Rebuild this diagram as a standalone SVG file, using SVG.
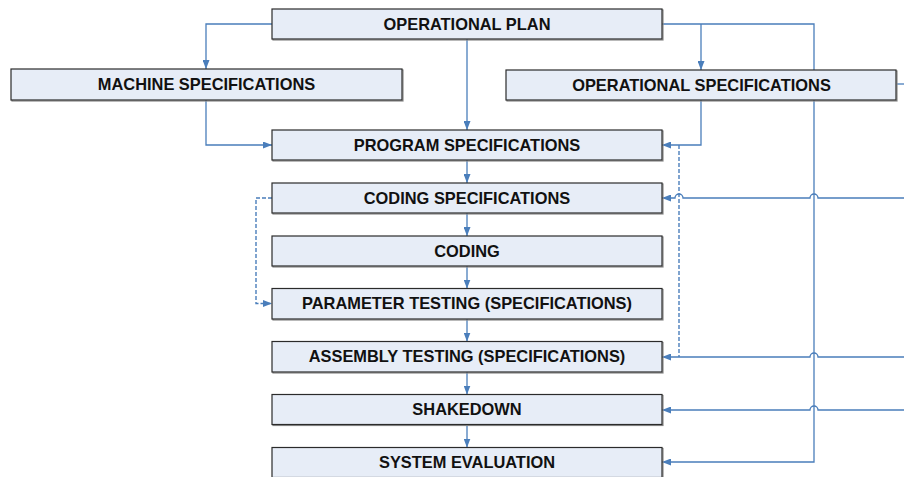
<svg xmlns="http://www.w3.org/2000/svg" width="904" height="477" viewBox="0 0 904 477">
<style>
.box rect.b{fill:#e7edf7;stroke:#2b2b2b;stroke-width:1.2}
.box rect.s{fill:none;stroke:#8a8a8a;stroke-width:1.2}
.box text{font-family:"Liberation Sans",Arial,sans-serif;font-weight:bold;font-size:16.4px;fill:#111;text-anchor:middle}
.c{fill:none;stroke:#4a7ebb;stroke-width:1.3}
.d{fill:none;stroke:#4a7ebb;stroke-width:1.4;stroke-dasharray:4,2}
</style>
<defs>
<marker id="ah" markerWidth="9" markerHeight="7" refX="9" refY="3.5" orient="auto" markerUnits="userSpaceOnUse">
<path d="M0,0 L9,3.5 L0,7 z" fill="#4a7ebb"/>
</marker>
</defs>
<rect width="904" height="477" fill="#fff"/>
<g id="connectors">
<path class="c" d="M272,24 H206 V69" marker-end="url(#ah)"/>
<path class="c" d="M662,24 H814 V462 H662" marker-end="url(#ah)"/>
<path class="c" d="M701,24 V70" marker-end="url(#ah)"/>
<path class="c" d="M467,39 V130" marker-end="url(#ah)"/>
<path class="c" d="M206,100 V145 H272" marker-end="url(#ah)"/>
<path class="c" d="M701,100 V145 H662" marker-end="url(#ah)"/>
<path class="d" d="M679,145 V357"/>
<path class="c" d="M904,198 H818 A4,4 0 0 0 810,198 H683 A4,4 0 0 0 675,198 H662" marker-end="url(#ah)"/>
<path class="c" d="M904,357 H818 A4,4 0 0 0 810,357 H662" marker-end="url(#ah)"/>
<path class="c" d="M904,410 H818 A4,4 0 0 0 810,410 H662" marker-end="url(#ah)"/>
<path class="c" d="M897,84 H904"/>
<path class="c" d="M467,160 V183" marker-end="url(#ah)"/>
<path class="c" d="M467,213 V236" marker-end="url(#ah)"/>
<path class="c" d="M467,266 V288.5" marker-end="url(#ah)"/>
<path class="c" d="M467,319 V341.5" marker-end="url(#ah)"/>
<path class="c" d="M467,372 V394.5" marker-end="url(#ah)"/>
<path class="c" d="M467,425 V447.5" marker-end="url(#ah)"/>
<path class="d" d="M272,198 H256 V303.5 H272" marker-end="url(#ah)"/>
</g>
<g id="operational-plan" class="box"><rect class="s" x="273" y="10" width="390" height="30"/><rect class="b" x="272" y="9" width="390" height="30"/><text x="467" y="29.5">OPERATIONAL PLAN</text></g>
<g id="machine-specifications" class="box"><rect class="s" x="12" y="70" width="391" height="31"/><rect class="b" x="11" y="69" width="391" height="31"/><text x="206.5" y="90">MACHINE SPECIFICATIONS</text></g>
<g id="operational-specifications" class="box"><rect class="s" x="507" y="71" width="390" height="30"/><rect class="b" x="506" y="70" width="390" height="30"/><text x="701.5" y="90.5">OPERATIONAL SPECIFICATIONS</text></g>
<g id="program-specifications" class="box"><rect class="s" x="273" y="131" width="390" height="30"/><rect class="b" x="272" y="130" width="390" height="30"/><text x="467" y="150.5">PROGRAM SPECIFICATIONS</text></g>
<g id="coding-specifications" class="box"><rect class="s" x="273" y="184" width="390" height="30"/><rect class="b" x="272" y="183" width="390" height="30"/><text x="467" y="203.5">CODING SPECIFICATIONS</text></g>
<g id="coding" class="box"><rect class="s" x="273" y="237" width="390" height="30"/><rect class="b" x="272" y="236" width="390" height="30"/><text x="467" y="256.5">CODING</text></g>
<g id="parameter-testing" class="box"><rect class="s" x="273" y="289.5" width="390" height="30.5"/><rect class="b" x="272" y="288.5" width="390" height="30.5"/><text x="467" y="309">PARAMETER TESTING (SPECIFICATIONS)</text></g>
<g id="assembly-testing" class="box"><rect class="s" x="273" y="342.5" width="390" height="30.5"/><rect class="b" x="272" y="341.5" width="390" height="30.5"/><text x="467" y="362">ASSEMBLY TESTING (SPECIFICATIONS)</text></g>
<g id="shakedown" class="box"><rect class="s" x="273" y="395.5" width="390" height="30"/><rect class="b" x="272" y="394.5" width="390" height="30"/><text x="467" y="415">SHAKEDOWN</text></g>
<g id="system-evaluation" class="box"><rect class="s" x="273" y="448.5" width="390" height="30"/><rect class="b" x="272" y="447.5" width="390" height="30"/><text x="467" y="468">SYSTEM EVALUATION</text></g>
</svg>
